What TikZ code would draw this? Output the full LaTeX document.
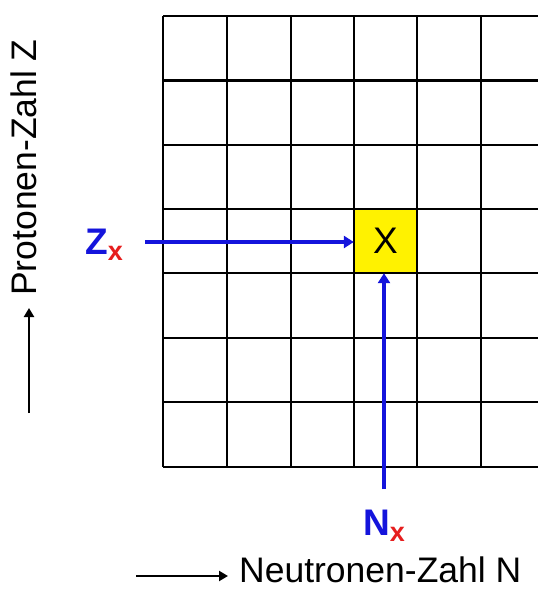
\documentclass[tikz,border=0pt]{standalone}
\usepackage{fontspec}
\setmainfont{Liberation Sans}
\usetikzlibrary{arrows.meta}
\definecolor{zblue}{RGB}{20,20,220}
\definecolor{zred}{RGB}{230,30,30}
\tikzset{
  gridline/.style={line width=2.2pt, black},
  bluearrow/.style={line width=3.4pt, zblue, -{Triangle[length=10pt,width=12pt]}},
  axisarrow/.style={line width=2.8pt, black, -{Triangle[length=9pt,width=10pt]}},
  axislabel/.style={font=\fontsize{35.5}{38}\selectfont, inner sep=0pt},
  idxlabel/.style={font=\fontsize{37}{40}\selectfont\bfseries, inner sep=0pt}
}
\begin{document}
\begin{tikzpicture}[x=1pt,y=-1pt]
\useasboundingbox (0,0) rectangle (538,590);
% highlighted cell
\node[fill=yellow, minimum width=63pt, minimum height=64pt, inner sep=0pt,
      font=\fontsize{37}{40}\selectfont] (X) at (385.5,241) {X};
% grid
\foreach \x in {163,227,291,354,417,481}
  \draw[gridline] (\x,16) -- (\x,467);
\foreach \y in {16,80.5,145,209,273,338,402,467}
  \draw[gridline] (163,\y) -- (538,\y);
% labels
\node[idxlabel, anchor=base] (Zx) at (104,254) {\textcolor{zblue}{Z}\raisebox{-6pt}{\fontsize{27}{29}\selectfont\textcolor{zred}{x}}};
\node[idxlabel, anchor=base] (Nx) at (384,535) {\textcolor{zblue}{N}\raisebox{-6pt}{\fontsize{27}{29}\selectfont\textcolor{zred}{x}}};
\coordinate (zs) at (145,242);
\coordinate (ns) at (384,489);
\draw[bluearrow] (zs) -- (zs -| X.west);
\draw[bluearrow] (ns) -- (ns |- X.south);
% axes
\coordinate (ha) at (136,576);
\coordinate (hb) at (228,576);
\node[axislabel, anchor=base west] (nlab) at (239,582) {Neutronen-Zahl N};
\draw[axisarrow] (ha) -- (hb);
\coordinate (va) at (29,413);
\coordinate (vb) at (29,308);
\node[axislabel, anchor=base west, rotate=90] (plab) at (36,296) {Protonen-Zahl Z};
\draw[axisarrow] (va) -- (vb);
\end{tikzpicture}
\end{document}
